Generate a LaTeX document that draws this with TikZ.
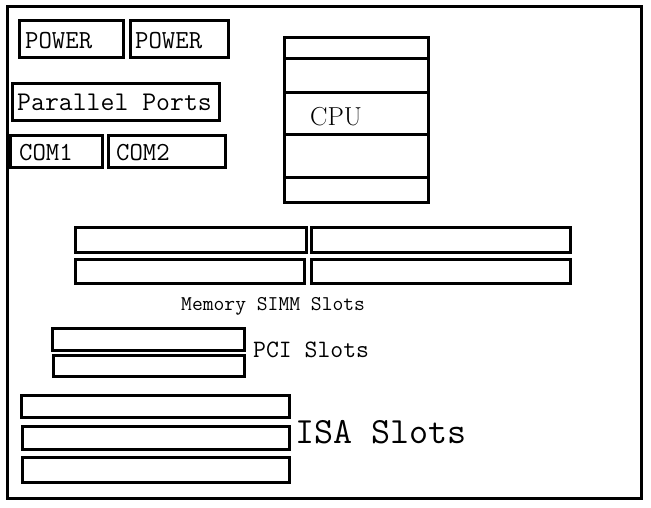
\documentclass[tikz,border=0pt]{standalone}
\usepackage{tikz}

\begin{document}
\begin{tikzpicture}[x=1pt, y=-1pt]
	\tikzset{slot/.style={draw, line width=3pt, inner sep=0pt, outer sep=0pt, anchor=north west}, tag/.style={inner sep=0pt, anchor=base west, font=\ttfamily}}
	\useasboundingbox (0,0) rectangle (651,507);
	
	\node[slot, minimum width=634, minimum height=492] (board) at (7,6) {};
	
	% ports
	\node[slot, minimum width=104, minimum height=37] (pow1) at (19.5,20) {};
	\node[slot, minimum width=98, minimum height=37] (pow2) at (130,20) {};
	\node[slot, minimum width=207, minimum height=37] (par) at (12,83) {};
	\node[slot, minimum width=92, minimum height=32] (com1) at (10,135) {};
	\node[slot, minimum width=117, minimum height=32] (com2) at (108,135) {};
	
	\node[tag, font=\ttfamily\fontsize{26}{28}\selectfont] (powtext1) at (25,48) {POWER};
	\node[tag, font=\ttfamily\fontsize{26}{28}\selectfont] (powtext2) at (135,48) {POWER};
	\node[tag, font=\ttfamily\fontsize{27}{29}\selectfont] (partext) at (17,110) {Parallel Ports};
	\node[tag, font=\ttfamily\fontsize{26}{28}\selectfont] (comtext1) at (19,160) {COM1};
	\node[tag, font=\ttfamily\fontsize{26}{28}\selectfont] (comtext2) at (116,160) {COM2};
	
	% cpu
	\node[slot, minimum width=144, minimum height=21] (cpu1) at (284,37) {};
	\node[slot, minimum width=144, minimum height=34] (cpu2) at (284,58) {};
	\node[slot, minimum width=144, minimum height=42] (cpu3) at (284,92) {};
	\node[slot, minimum width=144, minimum height=43] (cpu4) at (284,134) {};
	\node[slot, minimum width=144, minimum height=25] (cpu5) at (284,177) {};
	\node[inner sep=0pt, anchor=base west, font=\fontsize{26}{28}\selectfont] (cputext) at (310,125) {CPU};
	
	% memory
	\node[slot, minimum width=231, minimum height=25] (mem1) at (75,227) {};
	\node[slot, minimum width=259, minimum height=25] (mem2) at (311,227) {};
	\node[slot, minimum width=229, minimum height=24] (mem3) at (75,259) {};
	\node[slot, minimum width=259, minimum height=24] (mem4) at (311,259) {};
	\node[tag, font=\ttfamily\fontsize{21}{23}\selectfont] (memtext) at (181,310) {Memory SIMM Slots};
	
	% pci
	\node[slot, minimum width=192, minimum height=22] (pci1) at (52,328) {};
	\node[slot, minimum width=191, minimum height=21] (pci2) at (53,355) {};
	\node[tag, font=\ttfamily\fontsize{25}{27}\selectfont] (pcitext) at (253,357) {PCI Slots};
	
	% isa
	\node[slot, minimum width=268, minimum height=22] (isa1) at (21,395) {};
	\node[slot, minimum width=267, minimum height=23] (isa2) at (22,426) {};
	\node[slot, minimum width=267, minimum height=25] (isa3) at (22,457) {};
	\node[tag, font=\ttfamily\fontsize{37}{39}\selectfont] (isatext) at (295,443) {ISA Slots};
\end{tikzpicture}
\end{document}
